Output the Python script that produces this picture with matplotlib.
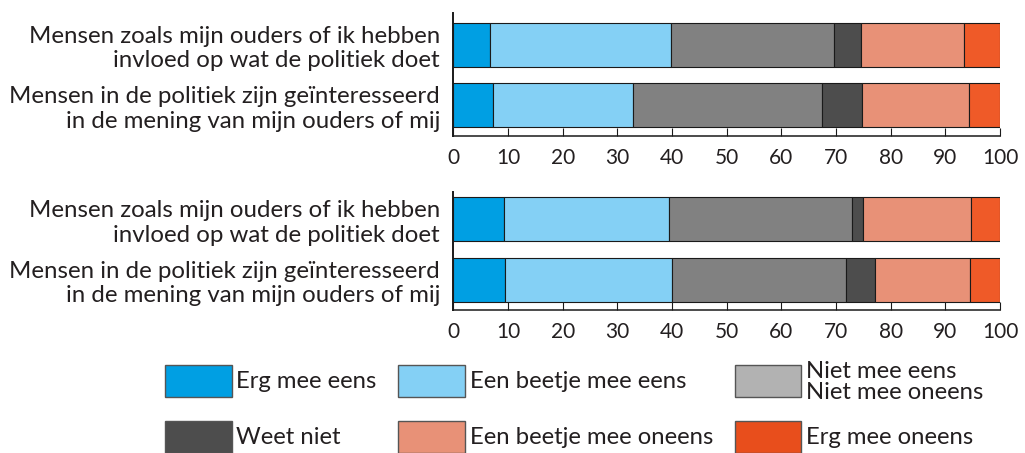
import matplotlib
matplotlib.use("Agg")
import matplotlib.pyplot as plt
from matplotlib.patches import Rectangle

plt.rcParams['font.family'] = ['Lato', 'DejaVu Sans']

# ---- data ----
categories = [
    "Mensen zoals mijn ouders of ik hebben\ninvloed op wat de politiek doet",
    "Mensen in de politiek zijn geïnteresseerd\nin de mening van mijn ouders of mij",
]
responses = ["Erg mee eens", "Een beetje mee eens", "Niet mee eens\nNiet mee oneens",
             "Weet niet", "Een beetje mee oneens", "Erg mee oneens"]
# percentages per response, one list per category (top panel)
panel1 = [
    [6.8, 33.0, 29.8, 5.0, 18.8, 6.6],
    [7.2, 25.6, 34.6, 7.4, 19.5, 5.7],
]
# bottom panel
panel2 = [
    [9.3, 30.1, 33.6, 2.0, 19.7, 5.3],
    [9.4, 30.6, 31.8, 5.3, 17.4, 5.5],
]
xticks = [0, 10, 20, 30, 40, 50, 60, 70, 80, 90, 100]

bar_colors = ["#009fe3", "#84d0f5", "#818181", "#4d4d4d", "#e89177", "#ef5a28"]
legend_colors = ["#009fe3", "#84d0f5", "#b2b2b2", "#4d4d4d", "#e89177", "#e84e1c"]
text_color = "#231f20"

W, H = 1025, 453
fig = plt.figure(figsize=(W / 100, H / 100), dpi=100)


def fx(px):
    return px / W


def fy(py):
    return 1 - py / H


def panel(top_px, bottom_px, ylim, data):
    ax = fig.add_axes([fx(453.3), fy(bottom_px), fx(1000) - fx(453.3), fy(top_px) - fy(bottom_px)])
    ypos = [1, 0]
    for i, row in enumerate(data):
        left = 0
        for j, v in enumerate(row):
            ax.barh(ypos[i], v, left=left, height=0.725, color=bar_colors[j],
                    edgecolor="#1a1a1a", linewidth=0.8, zorder=2)
            left += v
    ax.set_xlim(0, 100)
    ax.set_ylim(*ylim)
    ax.set_yticks(ypos)
    ax.set_yticklabels(categories, fontsize=17.3, color=text_color, ha="right",
                       linespacing=1.2)
    ax.tick_params(axis="y", length=0, pad=9.5)
    ax.set_xticks(xticks)
    ax.set_xticklabels([str(t) for t in xticks], fontsize=15, color=text_color)
    ax.tick_params(axis="x", direction="in", length=6.0, width=0.8, pad=8.5, color="#1a1a1a")
    for s in ["top", "right"]:
        ax.spines[s].set_visible(False)
    ax.spines["left"].set_linewidth(1.4)
    ax.spines["bottom"].set_linewidth(1.1)
    ax.spines["left"].set_color("#1a1a1a")
    ax.spines["bottom"].set_color("#1a1a1a")
    return ax


panel(12.7, 135.7, (-0.501, 1.527), panel1)
panel(191.7, 310.0, (-0.499, 1.454), panel2)

# ---- legend ----
col_x = [165, 398.3, 734.5]
row_y = [365, 421]
pw, ph = 66.5, 32
order = [[0, 1, 2], [3, 4, 5]]
for r, row in enumerate(order):
    for c, k in enumerate(row):
        x0 = col_x[c]
        y0 = row_y[r]
        rect = Rectangle((fx(x0), fy(y0 + ph)), fx(pw), ph / H, transform=fig.transFigure,
                         facecolor=legend_colors[k], edgecolor="#555555", linewidth=1.0,
                         clip_on=False)
        fig.add_artist(rect)
        fig.text(fx(x0 + pw + 5), fy(y0 + ph / 2 + 1), responses[k], fontsize=17.2,
                 color=text_color, ha="left", va="center", linespacing=1.0)

fig.savefig("out.png", dpi=100)
